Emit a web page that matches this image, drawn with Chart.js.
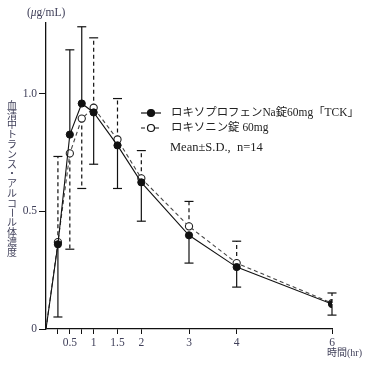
<!DOCTYPE html>
<html><head><meta charset="utf-8">
<script src="https://cdn.jsdelivr.net/npm/chart.js@4/dist/chart.umd.min.js"></script>
<style>html,body{margin:0;padding:0;background:#fff}#wrap{width:368px;height:365px;position:relative}</style>
</head><body><div id="wrap"><canvas id="c" width="368" height="365"></canvas></div>
<script>
const times = [0, 0.25, 0.5, 0.75, 1, 1.5, 2, 3, 4, 6];
const tckMean = [0, 0.36, 0.826, 0.958, 0.92, 0.78, 0.623, 0.398, 0.263, 0.106];
const tckSD   = [0, 0.309, 0.36, 0.326, 0.22, 0.183, 0.165, 0.118, 0.085, 0.047];
const tckDir  = [0, -1, 1, 1, -1, -1, -1, -1, -1, -1];
const refMean = [0, 0.369, 0.746, 0.894, 0.94, 0.805, 0.64, 0.436, 0.28, 0.11];
const refSD   = [0, 0.364, 0.407, 0.297, 0.297, 0.174, 0.118, 0.106, 0.093, 0.043];
const refDir  = [0, 1, -1, -1, 1, 1, 1, 1, 1, 1];
const xTicks = [0.25, 0.5, 0.75, 1, 1.5, 2, 3, 4, 6];
const xLabeled = [0.5, 1, 1.5, 2, 3, 4, 6];
const yTicks = [0, 0.5, 1.0];
const seriesNames = ['ロキソプロフェンNa錠60mg「TCK」', 'ロキソニン錠 60mg'];
const noteText = 'Mean±S.D.,  n=14';
const yTitle = '血清中トランス・アルコール体濃度';
const unitText = '(μg/mL)';
const xTitle = '時間(hr)';

const TXT = '#40405a';
const SERIF = "'Liberation Serif','Noto Sans CJK JP'";

const errPlugin = {
  id: 'err',
  beforeDatasetsDraw(chart) {
    const ctx = chart.ctx, xs = chart.scales.x, ys = chart.scales.y;
    const sets = [[tckMean, tckSD, tckDir, []], [refMean, refSD, refDir, [4, 3]]];
    ctx.save();
    ctx.strokeStyle = '#111';
    ctx.lineWidth = 1.2;
    sets.forEach(([m, s, d, dash]) => {
      times.forEach((t, i) => {
        if (!s[i]) return;
        const x = xs.getPixelForValue(t);
        const y0 = ys.getPixelForValue(m[i]);
        const y1 = ys.getPixelForValue(m[i] + d[i] * s[i]);
        ctx.setLineDash(dash);
        ctx.beginPath(); ctx.moveTo(x, y0); ctx.lineTo(x, y1); ctx.stroke();
        ctx.setLineDash([]);
        ctx.beginPath(); ctx.moveTo(x - 4.5, y1); ctx.lineTo(x + 4.5, y1); ctx.stroke();
      });
    });
    ctx.restore();
  }
};

const textPlugin = {
  id: 'texts',
  afterDraw(chart) {
    const ctx = chart.ctx;
    ctx.save();
    // legend
    const lx = 141, rows = [113, 128];
    ctx.font = "12px " + SERIF;
    const w0 = ctx.measureText(seriesNames[0]).width;
    const fs = Math.min(12.5, 12 * 188 / w0);
    rows.forEach((y, i) => {
      ctx.strokeStyle = '#111'; ctx.lineWidth = 1.2;
      ctx.setLineDash(i === 0 ? [] : [4, 3]);
      ctx.beginPath(); ctx.moveTo(lx, y); ctx.lineTo(lx + 20, y); ctx.stroke();
      ctx.setLineDash([]);
      ctx.beginPath(); ctx.arc(lx + 10, y, 3.5, 0, Math.PI * 2);
      ctx.fillStyle = i === 0 ? '#111' : '#fff'; ctx.fill(); ctx.stroke();
      ctx.fillStyle = '#222';
      ctx.font = fs.toFixed(2) + "px " + SERIF;
      ctx.textBaseline = 'middle'; ctx.textAlign = 'left';
      ctx.fillText(seriesNames[i], 171, y);
    });
    ctx.font = "12.5px " + SERIF;
    ctx.fillText(noteText, 170, 148);
    // unit
    ctx.fillStyle = TXT;
    ctx.font = "11.5px " + SERIF;
    ctx.textAlign = 'left';
    let ux = 27;
    ctx.fillText('(', ux, 13); ux += ctx.measureText('(').width;
    ctx.font = "italic 11.5px " + SERIF;
    ctx.fillText('μ', ux, 13); ux += ctx.measureText('μ').width;
    ctx.font = "11.5px " + SERIF;
    ctx.fillText('g/mL)', ux, 13);
    // x title
    ctx.font = "10px " + SERIF;
    ctx.textAlign = 'right';
    ctx.fillText(xTitle, 362, 353);
    // y title vertical
    ctx.font = "10px 'Noto Sans CJK JP'";
    ctx.textAlign = 'center';
    const chars = Array.from(yTitle);
    chars.forEach((ch, i) => {
      const y = 105 + i * 9.8;
      if (ch === 'ー') {
        ctx.save(); ctx.translate(12, y); ctx.rotate(Math.PI / 2);
        ctx.fillText(ch, 0, 0); ctx.restore();
      } else ctx.fillText(ch, 12, y);
    });
    ctx.restore();
  }
};

new Chart(document.getElementById('c'), {
  type: 'line',
  data: {
    datasets: [
      {
        label: seriesNames[0],
        data: times.map((t, i) => ({ x: t, y: tckMean[i] })),
        borderColor: '#111', borderWidth: 1.1,
        pointRadius: times.map(t => t === 0 ? 0 : 3.6),
        pointBackgroundColor: '#111', pointBorderColor: '#111', pointBorderWidth: 1,
        tension: 0
      },
      {
        label: seriesNames[1],
        data: times.map((t, i) => ({ x: t, y: refMean[i] })),
        borderColor: '#444', borderWidth: 1.1, borderDash: [4, 3],
        pointRadius: times.map(t => t === 0 ? 0 : 3.6),
        pointBackgroundColor: '#fff', pointBorderColor: '#222', pointBorderWidth: 1.1,
        tension: 0
      }
    ]
  },
  options: {
    responsive: false, animation: false,
    layout: { padding: { left: 0, right: 36, top: 23, bottom: 0 } },
    plugins: { legend: { display: false }, tooltip: { enabled: false } },
    scales: {
      x: {
        type: 'linear', min: 0, max: 6,
        afterBuildTicks: s => { s.ticks = xTicks.map(v => ({ value: v })); },
        afterFit: s => { s.height = 36; },
        grid: { drawOnChartArea: false, drawTicks: true, tickLength: 5, color: '#111', lineWidth: 1 },
        border: { display: true, color: '#111', width: 1.3 },
        ticks: {
          autoSkip: false, maxRotation: 0, padding: 2, color: TXT,
          font: { family: SERIF, size: 11.5 },
          callback: v => xLabeled.includes(v) ? String(v) : ''
        }
      },
      y: {
        type: 'linear', min: 0, max: 1.3,
        afterBuildTicks: s => { s.ticks = yTicks.map(v => ({ value: v })); },
        afterFit: s => { s.width = 46; },
        grid: { drawOnChartArea: false, drawTicks: true, tickLength: 7, color: '#111', lineWidth: 1 },
        border: { display: true, color: '#111', width: 1.3 },
        ticks: {
          padding: 2, color: TXT,
          font: { family: SERIF, size: 11.5 },
          callback: v => v === 0 ? '0' : v.toFixed(1)
        }
      }
    }
  },
  plugins: [errPlugin, textPlugin]
});
</script></body></html>
